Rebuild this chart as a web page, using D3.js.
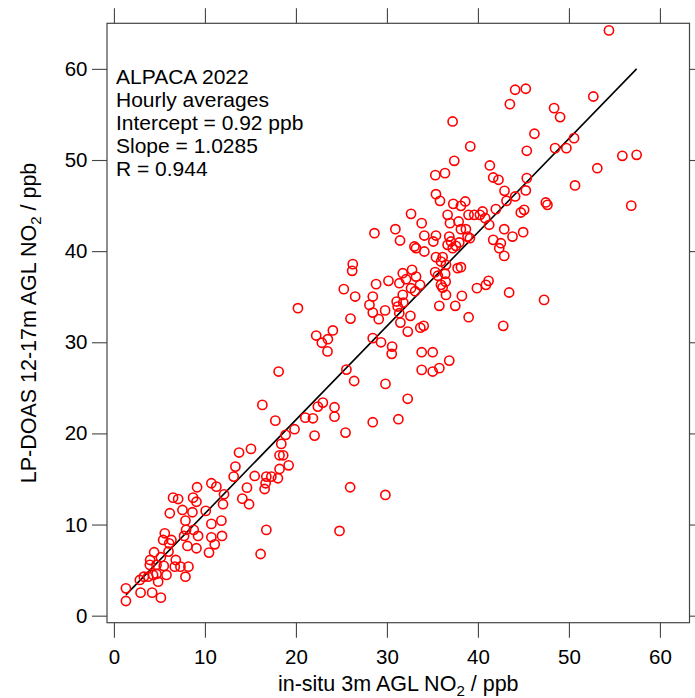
<!DOCTYPE html>
<html><head><meta charset="utf-8">
<script src="https://cdn.jsdelivr.net/npm/d3@7"></script>
<style>
body{margin:0;background:#fff}
svg{display:block}
text{font-family:"Liberation Sans",Arial,Helvetica,sans-serif;fill:#000}
</style>
</head><body><svg id="c" width="695" height="698"></svg>
<script>
// in-situ 3m AGL NO2 (ppb)
const insitu = [
1.32,1.32,2.93,4.2,5.16,4.86,2.85,3.29,3.77,4.31,4.68,5.78,3.95,4.68,5.48,6.69,7.31,8.19,7.86,3.98,
4.42,5.16,6.0,6.8,5.59,5.41,6.32,6.07,6.14,6.5,7.06,7.53,8.7,9.07,9.14,8.63,10.09,7.86,7.93,7.71,
8.77,9.25,8.08,9.07,10.71,11.26,12.1,11.99,10.71,11.81,10.71,11.88,11.08,10.45,13.16,13.35,13.75,15.47,14.62,14.11,
14.85,16.75,16.12,16.75,17.3,16.67,16.56,18.02,18.2,19.2,18.2,18.6,
18.1,16.31,17.74,18.87,18.39,15.06,22.96,22.41,24.24,24.24,21.03,21.87,19.85,22.05,25.45,28.44,31.26,25.96,29.83,24.79,32.28,
28.63,26.25,26.18,25.26,26.51,28.81,28.45,28.08,28.45,29.1,20.22,26.0,22.23,24.06,23.51,22.85,23.47,28.44,29.35,25.55,
26.4,29.84,30.57,30.53,33.82,35.03,36.85,33.82,35.03,35.76,30.17,29.8,
31.07,31.18,31.8,31.36,32.58,31.48,32.29,33.67,34.04,35.76,37.51,38.24,36.49,38.98,39.89,40.88,41.17,43.43,47.27,42.78,35.94,36.12,
35.83,37.29,38.13,38.61,32.65,36.67,38.97,39.6,40.22,40.51,40.8,41.97,43.14,44.71,45.08,47.46,47.64,33.82,36.93,37.88,
30.93,38.13,38.68,41.24,42.89,44.97,31.44,34.11,35.39,35.1,33.02,33.2,34.11,36.85,37.04,36.67,37.22,37.58,37.95,38.86,
39.12,41.68,42.52,42.34,42.89,43.8,35.39,35.94,36.12,36.49,37.77,38.13,31.74,32.1,32.76,33.2,33.64,32.65,31.37,31.74,
35.3,35.6,36.4,36.45,33.1,
54.4,44.09,45.26,43.51,52.68,48.37,49.03,37.22,46.21,39.16,50.56,48.48,49.72,45.37,37.4,55.87,57.44,53.12,41.31,35.32,
36.38,41.68,42.26,45.37,50.67,35.39,42.92,44.09,45.26,56.85
];
// LP-DOAS 12-17m AGL NO2 (ppb)
const lpdoas = [
1.61,3.0,2.53,2.53,1.98,3.73,3.92,4.28,4.28,4.47,4.58,4.47,5.57,5.57,5.46,5.38,5.38,5.38,4.28,6.11,
6.96,6.41,7.03,6.11,9.04,8.31,8.31,7.94,11.24,12.95,12.8,11.6,12.95,12.5,14.09,11.35,11.5,10.43,9.41,8.75,
9.41,8.75,7.65,7.4,14.53,14.16,13.32,12.23,10.07,10.43,8.6,8.75,7.83,6.92,15.26,16.36,17.9,15.33,14.05,12.84,
12.23,9.41,6.77,15.26,15.26,14.53,13.9,15.08,16.1,16.5,17.6,17.6,
26.79,23.13,21.4,19.84,18.85,18.3,23.38,22.94,22.87,21.84,21.73,21.66,20.46,19.76,20.09,21.23,21.56,14.09,13.25,9.3,23.8,
41.97,38.57,37.84,35.83,35.02,36.38,35.02,34.1,33.26,32.54,33.74,32.6,30.74,31.3,30.34,29.95,29.0,30.45,30.0,27.0,
25.75,25.43,29.53,28.73,28.91,28.91,27.99,26.97,26.79,27.16,36.74,33.5,
34.47,33.92,34.36,33.19,32.9,32.16,31.17,31.6,31.8,34.0,34.0,35.09,35.2,32.75,35.94,36.3,36.74,35.46,34.65,31.8,36.3,36.0,
45.52,45.19,44.97,45.45,44.09,43.98,43.98,43.98,43.98,44.35,43.62,44.61,45.52,44.24,44.53,45.34,45.08,43.07,43.07,43.25,
42.41,42.41,42.41,42.89,42.41,42.08,41.17,41.71,41.71,41.06,40.51,40.32,39.96,41.6,41.06,40.69,40.32,40.58,40.95,41.6,
41.42,41.24,40.87,40.32,39.48,41.6,39.34,38.86,39.34,38.5,38.13,38.24,37.58,36.92,37.95,37.21,36.3,35.93,36.48,35.2,
37.7,37.3,37.5,36.65,35.6,
64.22,57.71,57.82,56.13,56.97,55.69,54.71,54.23,52.88,51.49,52.4,51.3,51.3,51.01,49.91,50.46,50.57,49.1,49.4,48.34,
48.56,48.08,47.83,48.01,47.21,46.25,46.62,46.0,46.66,44.99
];
const xTicks = [0,10,20,30,40,50,60];
const yTicks = [0,10,20,30,40,50,60];
const annotation = ["ALPACA 2022","Hourly averages","Intercept = 0.92 ppb","Slope = 1.0285","R = 0.944"];
const fitIntercept = 0.92;
const fitSlope = 1.0285;

const svg = d3.select("#c");
const L = 107, R = 689.5, T = 23.3, B = 622.7;
const FS = 20.5;       // tick labels
const FA = 21;         // annotation
const FT = 21.5;       // axis titles
const x = d3.scaleLinear().domain([-0.76, 63.25]).range([L, R]);
const y = d3.scaleLinear().domain([-0.77, 65.0]).range([B, T]);
const axisColor = "#444";

function styleAxis(g){
  g.select(".domain").remove();
  g.selectAll(".tick line").attr("stroke", axisColor).attr("stroke-width", 1.1);
  g.selectAll(".tick text").attr("font-size", FS).attr("fill", "#000")
    .style("font-family", '"Liberation Sans",Arial,Helvetica,sans-serif');
}

svg.append("g").attr("transform", `translate(0,${B})`)
  .call(d3.axisBottom(x).tickValues(xTicks).tickSize(15).tickPadding(11.5).tickFormat(d3.format("d")))
  .call(styleAxis);
svg.append("g").attr("transform", `translate(0,${T})`)
  .call(d3.axisTop(x).tickValues(xTicks).tickSize(15).tickFormat(""))
  .call(styleAxis);
svg.append("g").attr("transform", `translate(${L},0)`)
  .call(d3.axisLeft(y).tickValues(yTicks).tickSize(15).tickPadding(4.5).tickFormat(d3.format("d")))
  .call(styleAxis);
svg.append("g").attr("transform", `translate(${R},0)`)
  .call(d3.axisRight(y).tickValues(yTicks).tickSize(15).tickFormat(""))
  .call(styleAxis);

svg.append("rect").attr("x", L).attr("y", T).attr("width", R - L).attr("height", B - T)
  .attr("fill", "none").attr("stroke", axisColor).attr("stroke-width", 1.2);

// regression line
const xr = d3.extent(insitu);
svg.append("line")
  .attr("x1", x(xr[0])).attr("y1", y(fitIntercept + fitSlope * xr[0]))
  .attr("x2", x(xr[1])).attr("y2", y(fitIntercept + fitSlope * xr[1]))
  .attr("stroke", "#000").attr("stroke-width", 1.6);

// points
svg.append("g").selectAll("circle").data(insitu.map((v, i) => [v, lpdoas[i]])).join("circle")
  .attr("cx", d => x(d[0])).attr("cy", d => y(d[1])).attr("r", 4.6)
  .attr("fill", "none").attr("stroke", "#ff0000").attr("stroke-width", 1.6);

// annotation
svg.append("g").selectAll("text").data(annotation).join("text")
  .attr("x", 116).attr("y", (d, i) => 83.5 + i * 23.1)
  .attr("font-size", FA).text(d => d);

// x title
const xt = svg.append("text").attr("x", (L + R) / 2).attr("y", 691)
  .attr("text-anchor", "middle").attr("font-size", FT);
xt.append("tspan").text("in-situ 3m AGL NO");
xt.append("tspan").attr("font-size", FT * 0.7).attr("dy", 5).text("2");
xt.append("tspan").attr("dy", -5).text(" / ppb");

// y title
const yt = svg.append("text").attr("transform", `translate(36,${(T + B) / 2}) rotate(-90)`)
  .attr("text-anchor", "middle").attr("font-size", FT);
yt.append("tspan").text("LP-DOAS 12-17m AGL NO");
yt.append("tspan").attr("font-size", FT * 0.7).attr("dy", 5).text("2");
yt.append("tspan").attr("dy", -5).text(" / ppb");
</script>
</body></html>
